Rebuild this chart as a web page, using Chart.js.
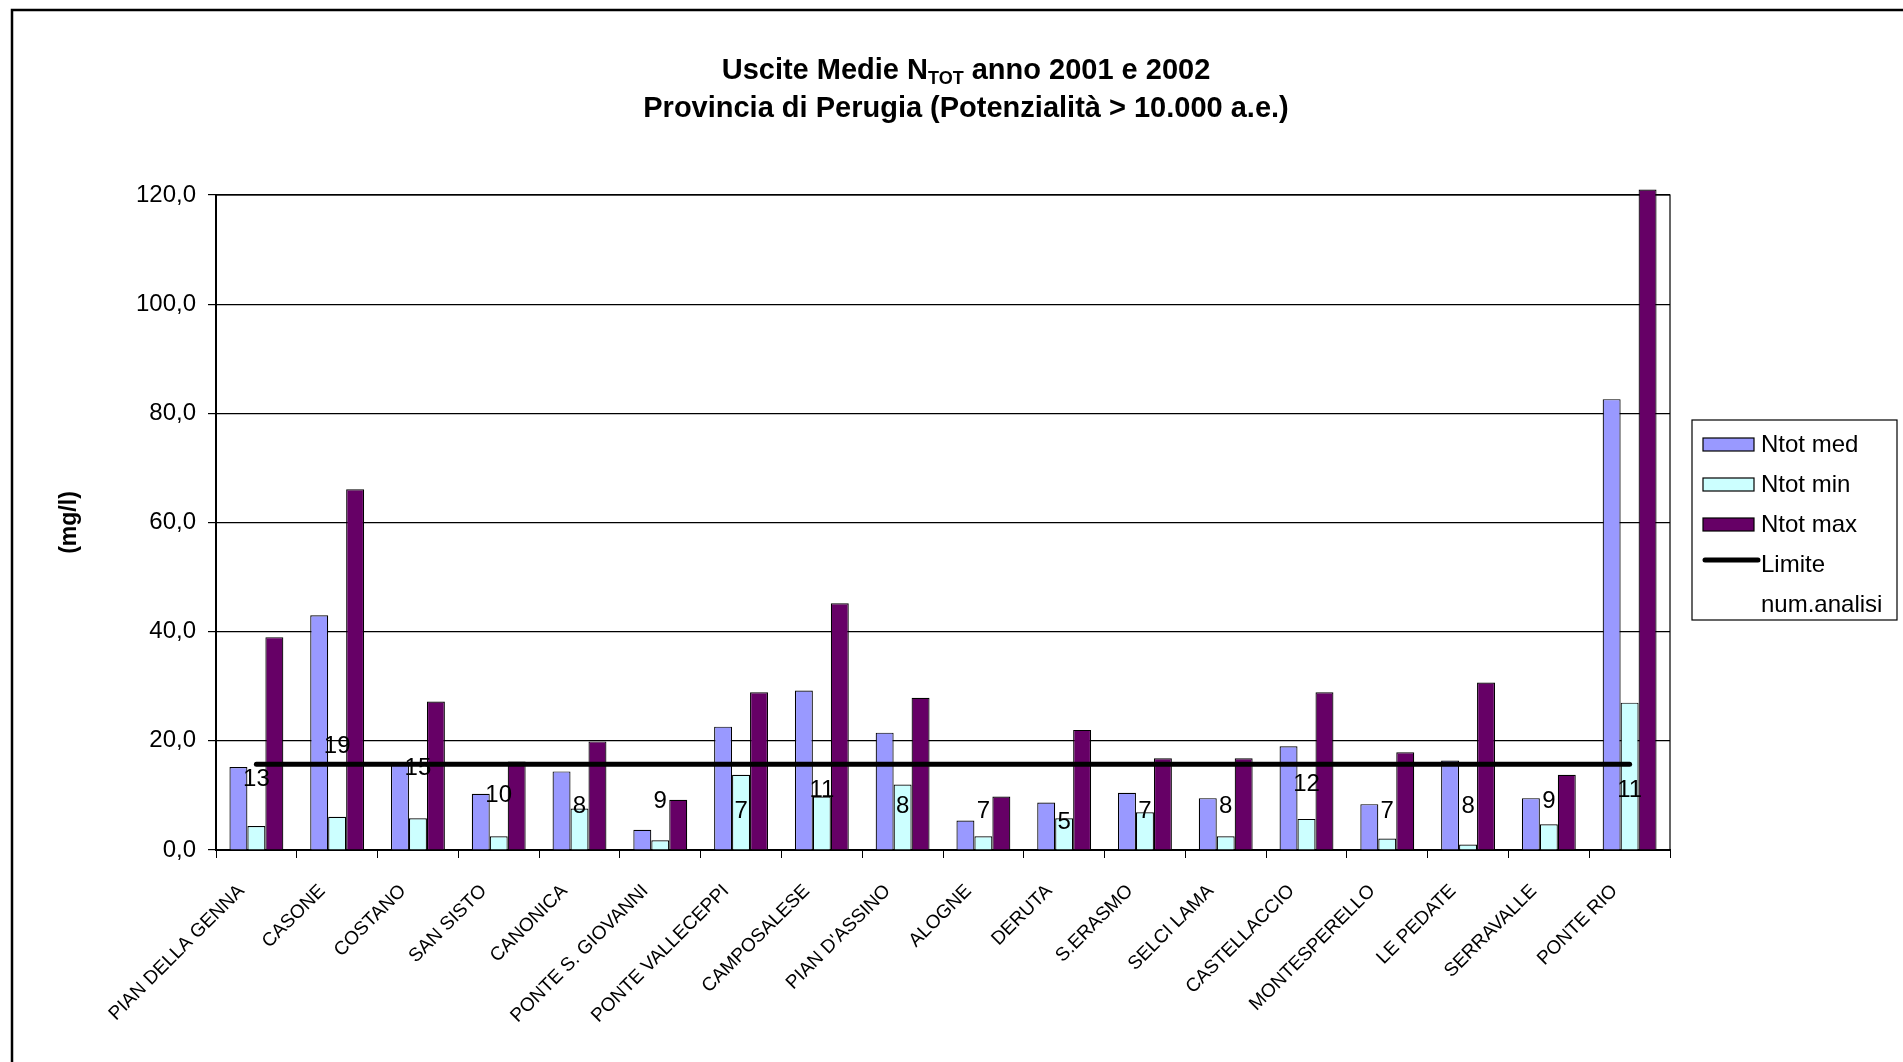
<!DOCTYPE html>
<html><head><meta charset="utf-8">
<script src="https://cdn.jsdelivr.net/npm/chart.js@4.4.1/dist/chart.umd.min.js"></script>
<style>html,body{margin:0;padding:0;background:#fff;overflow:hidden}canvas{display:block}</style>
</head><body>
<canvas id="c" width="1903" height="1062"></canvas>
<script>
const categories = ["PIAN DELLA GENNA","CASONE","COSTANO","SAN SISTO","CANONICA","PONTE S. GIOVANNI","PONTE VALLECEPPI","CAMPOSALESE","PIAN D'ASSINO","ALOGNE","DERUTA","S.ERASMO","SELCI LAMA","CASTELLACCIO","MONTESPERELLO","LE PEDATE","SERRAVALLE","PONTE RIO"];
const ntotMed = [15.2, 43.0, 15.6, 10.3, 14.4, 3.7, 22.6, 29.2, 21.5, 5.4, 8.7, 10.5, 9.5, 19.0, 8.4, 16.4, 9.5, 82.6];
const ntotMin = [4.4, 6.1, 5.8, 2.5, 7.6, 1.8, 13.8, 9.8, 12.0, 2.5, 5.8, 6.9, 2.5, 5.7, 2.1, 1.0, 4.7, 27.0];
const ntotMax = [39.0, 66.1, 27.2, 16.2, 19.9, 9.2, 28.9, 45.2, 27.9, 9.8, 22.0, 16.8, 16.8, 28.9, 17.9, 30.7, 13.8, 121.0];
const limite = [15.7, 15.7, 15.7, 15.7, 15.7, 15.7, 15.7, 15.7, 15.7, 15.7, 15.7, 15.7, 15.7, 15.7, 15.7, 15.7, 15.7, 15.7];
const numAnalisi = [13, 19, 15, 10, 8, 9, 7, 11, 8, 7, 5, 7, 8, 12, 7, 8, 9, 11];
const seriesNames = ["Ntot med", "Ntot min", "Ntot max", "Limite", "num.analisi"];
const titleLine1 = ["Uscite Medie N", "TOT", " anno 2001 e 2002"];
const titleLine2 = "Provincia di Perugia (Potenzialità > 10.000 a.e.)";
const yAxisTitle = "(mg/l)";

const FONT = '"Liberation Sans", Arial, sans-serif';

const decorPlugin = {
  id: 'decor',
  beforeDraw(chart) {
    const ctx = chart.ctx;
    ctx.save();
    ctx.strokeStyle = '#000';
    ctx.lineWidth = 2.5;
    ctx.beginPath();
    ctx.moveTo(12, 1070); ctx.lineTo(12, 10); ctx.lineTo(1910, 10);
    ctx.stroke();
    ctx.fillStyle = '#000';
    ctx.textBaseline = 'middle';
    ctx.textAlign = 'left';
    const big = 'bold 29px ' + FONT, small = 'bold 18px ' + FONT;
    ctx.font = big; const w1 = ctx.measureText(titleLine1[0]).width;
    ctx.font = small; const w2 = ctx.measureText(titleLine1[1]).width;
    ctx.font = big; const w3 = ctx.measureText(titleLine1[2]).width;
    let x = 966 - (w1 + w2 + w3) / 2;
    ctx.font = big; ctx.fillText(titleLine1[0], x, 71); x += w1;
    ctx.font = small; ctx.fillText(titleLine1[1], x, 79); x += w2;
    ctx.font = big; ctx.fillText(titleLine1[2], x, 71);
    ctx.textAlign = 'center';
    ctx.fillText(titleLine2, 966, 109);
    ctx.restore();
  },
  beforeDatasetsDraw(chart) {
    const a = chart.chartArea, ctx = chart.ctx;
    ctx.save();
    ctx.strokeStyle = '#000'; ctx.lineWidth = 1.2;
    ctx.strokeRect(a.left, a.top, a.right - a.left, a.bottom - a.top);
    ctx.restore();
  },
  afterDatasetsDraw(chart) {
    const ctx = chart.ctx;
    const meta = chart.getDatasetMeta(4);
    ctx.save();
    ctx.fillStyle = '#000';
    ctx.font = '24px ' + FONT;
    ctx.textAlign = 'center'; ctx.textBaseline = 'middle';
    meta.data.forEach((pt, i) => ctx.fillText(String(numAnalisi[i]), pt.x, pt.y));
    ctx.restore();
  },
  afterDraw(chart) {
    const ctx = chart.ctx;
    ctx.save();
    ctx.strokeStyle = '#000'; ctx.lineWidth = 1.2;
    ctx.fillStyle = '#fff';
    ctx.fillRect(1692, 420, 205, 200);
    ctx.strokeRect(1692, 420, 205, 200);
    ctx.font = '24px ' + FONT;
    ctx.textBaseline = 'middle'; ctx.textAlign = 'left';
    chart.data.datasets.forEach((ds, i) => {
      const cy = 445 + i * 40;
      if (ds.type === 'bar' || !ds.type) {
        ctx.fillStyle = ds.backgroundColor;
        ctx.fillRect(1703, cy - 7, 51, 13);
        ctx.lineWidth = 1.2; ctx.strokeStyle = '#000';
        ctx.strokeRect(1703, cy - 7, 51, 13);
      } else if (ds.showLine !== false) {
        ctx.strokeStyle = ds.borderColor; ctx.lineWidth = 5; ctx.lineCap = 'round';
        ctx.beginPath(); ctx.moveTo(1705, cy - 5); ctx.lineTo(1758, cy - 5); ctx.stroke();
      }
      ctx.fillStyle = '#000';
      ctx.fillText(ds.label, 1761, cy);
    });
    ctx.restore();
  }
};

new Chart(document.getElementById('c'), {
  type: 'bar',
  data: {
    labels: categories,
    datasets: [
      { type: 'bar', label: seriesNames[0], data: ntotMed, backgroundColor: '#9999FF', borderColor: '#000', borderWidth: 1.2, order: 3 },
      { type: 'bar', label: seriesNames[1], data: ntotMin, backgroundColor: '#CCFFFF', borderColor: '#000', borderWidth: 1.2, order: 3 },
      { type: 'bar', label: seriesNames[2], data: ntotMax, backgroundColor: '#660066', borderColor: '#000', borderWidth: 1.2, order: 3, clip: false },
      { type: 'line', label: seriesNames[3], data: limite, borderColor: '#000', backgroundColor: '#000', borderWidth: 5, pointRadius: 0, borderCapStyle: 'round', order: 1 },
      { type: 'line', label: seriesNames[4], data: numAnalisi, showLine: false, pointRadius: 0, borderColor: 'transparent', backgroundColor: 'transparent', order: 0 }
    ]
  },
  options: {
    responsive: false,
    animation: false,
    devicePixelRatio: 1,
    layout: { padding: { top: 195, left: 53, right: 233, bottom: 0 } },
    plugins: { legend: { display: false }, title: { display: false }, tooltip: { enabled: false } },
    datasets: { bar: { categoryPercentage: 0.667, barPercentage: 1.0 } },
    scales: {
      x: {
        offset: true,
        grid: { display: true, drawOnChartArea: false, drawTicks: true, tickLength: 8, color: '#000', offset: true },
        border: { color: '#000', width: 2 },
        ticks: { color: '#000', font: { family: FONT, size: 19 }, minRotation: 45, maxRotation: 45, autoSkip: false, padding: 22, labelOffset: -15 },
        afterFit(scale) { scale.height = 212; }
      },
      y: {
        min: 0, max: 120,
        ticks: { stepSize: 20, color: '#000', font: { family: FONT, size: 24 }, padding: 12,
          callback: v => v.toFixed(1).replace('.', ',') },
        grid: { color: '#000', lineWidth: 1.2, drawTicks: true, tickLength: 8 },
        border: { color: '#000', width: 2 },
        title: { display: true, text: yAxisTitle, color: '#000', font: { family: FONT, size: 23, weight: 'bold' }, padding: { top: 3, bottom: 4 } },
        afterFit(scale) { scale.width = 163; }
      }
    }
  },
  plugins: [decorPlugin]
});
</script>
</body></html>
